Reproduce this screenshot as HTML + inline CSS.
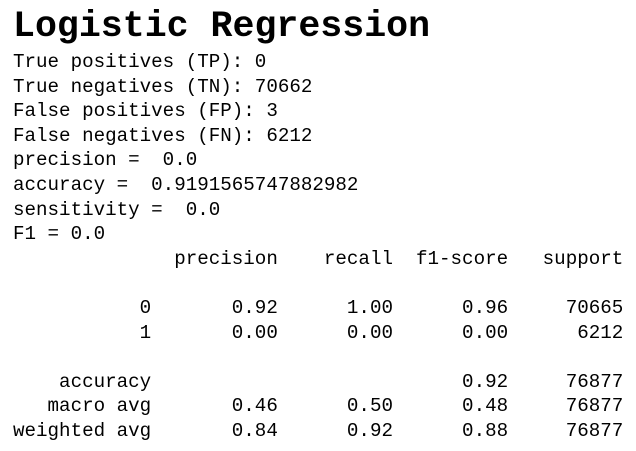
<!DOCTYPE html>
<html>
<head>
<meta charset="utf-8">
<style>
html,body{margin:0;padding:0;background:#fff;width:636px;height:451px;overflow:hidden;}
#title{position:absolute;left:13px;top:9px;font-family:"Liberation Mono",monospace;font-weight:bold;font-size:36.6px;line-height:36.6px;color:#000;white-space:pre;margin:0;}
#body{position:absolute;left:13px;top:50px;font-family:"Liberation Mono",monospace;font-size:19.2px;line-height:24.6px;color:#000;white-space:pre;margin:0;}
</style>
</head>
<body>
<div id="title">Logistic Regression</div>
<pre id="body">True positives (TP): 0
True negatives (TN): 70662
False positives (FP): 3
False negatives (FN): 6212
precision =  0.0
accuracy =  0.9191565747882982
sensitivity =  0.0
F1 = 0.0
              precision    recall  f1-score   support

           0       0.92      1.00      0.96     70665
           1       0.00      0.00      0.00      6212

    accuracy                           0.92     76877
   macro avg       0.46      0.50      0.48     76877
weighted avg       0.84      0.92      0.88     76877</pre>
</body>
</html>
